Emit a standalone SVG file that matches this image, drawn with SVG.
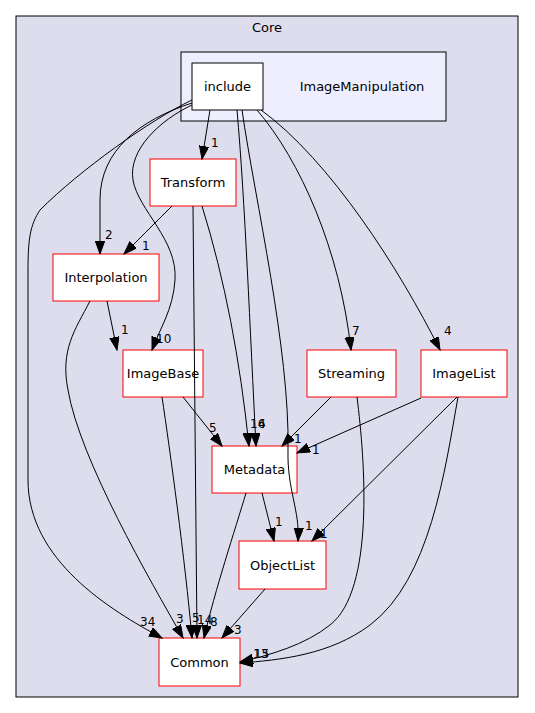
<svg xmlns="http://www.w3.org/2000/svg" width="535" height="713" viewBox="0 0 535 713">
<defs>
<marker id="ah" markerWidth="14" markerHeight="10" refX="13" refY="4.7" orient="auto" markerUnits="userSpaceOnUse"><path d="M0,0 L13,4.7 L0,9.4 z" fill="#000" stroke="#000" stroke-width="1"/></marker>
</defs>
<style>
text{font-family:"DejaVu Sans","Liberation Sans",sans-serif;font-size:13px;fill:#000}
.l{font-size:12px}
.n{fill:#fff;stroke:#ff0000;stroke-width:1}
.e{fill:none;stroke:#000;stroke-width:1;marker-end:url(#ah)}
.c{text-anchor:middle}
</style>
<rect width="535" height="713" fill="#fff"/>
<g id="cluster_core">
<rect x="16" y="16" width="502" height="681" fill="#ddddee" stroke="#000"/>
<text class="c" x="267" y="32">Core</text>
</g>
<g id="cluster_imagemanipulation">
<rect x="181" y="52" width="265" height="69" fill="#eeeeff" stroke="#000"/>
<text class="c" x="362" y="91">ImageManipulation</text>
</g>
<g id="include">
<rect x="192" y="63" width="71" height="47" fill="#fff" stroke="#000"/>
<text class="c" x="227.5" y="91">include</text>
</g>
<g id="transform">
<rect class="n" x="150" y="159" width="86" height="47"/>
<text class="c" x="193" y="187">Transform</text>
</g>
<g id="interpolation">
<rect class="n" x="53" y="254" width="106" height="47"/>
<text class="c" x="106" y="282">Interpolation</text>
</g>
<g id="imagebase">
<rect class="n" x="123" y="350" width="80" height="47"/>
<text class="c" x="163" y="378">ImageBase</text>
</g>
<g id="streaming">
<rect class="n" x="307" y="350" width="89" height="47"/>
<text class="c" x="351.5" y="378">Streaming</text>
</g>
<g id="imagelist">
<rect class="n" x="421" y="350" width="86" height="47"/>
<text class="c" x="464" y="378">ImageList</text>
</g>
<g id="metadata">
<rect class="n" x="212" y="446" width="85" height="47"/>
<text class="c" x="254.5" y="474">Metadata</text>
</g>
<g id="objectlist">
<rect class="n" x="239" y="541" width="87" height="48"/>
<text class="c" x="282.5" y="570">ObjectList</text>
</g>
<g id="common">
<rect class="n" x="159" y="638" width="81" height="48"/>
<text class="c" x="199.5" y="667">Common</text>
</g>
<g id="connectors">
<path class="e" d="M210,110 L202,159"/>
<text class="l" x="211" y="147">1</text>
<path class="e" d="M192,103 C140,120 100,150 100,200 L100,254"/>
<text class="l" x="105" y="239">2</text>
<path class="e" d="M192,105 C160,120 128,150 133,180 C138,210 178,240 175,280 C173,310 160,328 152,350"/>
<text class="l" x="156" y="343">10</text>
<path class="e" d="M192,100 C150,120 80,170 40,210 C30,225 28,240 28,270 L28,480 C28,560 110,610 162,638"/>
<text class="l" x="140" y="626">34</text>
<path class="e" d="M237,110 C245,200 250,330 256,446"/>
<text class="l" x="258" y="428">4</text>
<path class="e" d="M202,206 C225,280 240,360 249,446"/>
<text class="l" x="250" y="428">16</text>
<path class="e" d="M242,110 C255,200 290,350 288,450 C287,490 300,510 298,541"/>
<text class="l" x="305" y="530">1</text>
<path class="e" d="M257,110 C300,160 340,250 351,350"/>
<text class="l" x="352" y="335">7</text>
<path class="e" d="M261,110 C330,160 400,270 440,350"/>
<text class="l" x="444" y="335">4</text>
<path class="e" d="M172,206 L124,254"/>
<text class="l" x="142" y="250">1</text>
<path class="e" d="M107,301 L117,350"/>
<text class="l" x="121" y="334">1</text>
<path class="e" d="M90,301 C75,330 60,350 68,390 C80,460 150,580 183,638"/>
<text class="l" x="176" y="623">3</text>
<path class="e" d="M183,397 L222,446"/>
<text class="l" x="209" y="432">5</text>
<path class="e" d="M162,397 C170,450 185,560 192,638"/>
<text class="l" x="192" y="622">5</text>
<path class="e" d="M193,206 L197,638"/>
<text class="l" x="197" y="624">14</text>
<path class="e" d="M246,493 C235,530 215,590 204,638"/>
<text class="l" x="210" y="626">8</text>
<path class="e" d="M265,589 L222,638"/>
<text class="l" x="234" y="634">3</text>
<path class="e" d="M262,493 L274,541"/>
<text class="l" x="275" y="526">1</text>
<path class="e" d="M457,397 L312,541"/>
<text class="l" x="320" y="538">1</text>
<path class="e" d="M331,397 L282,446"/>
<text class="l" x="294" y="443">1</text>
<path class="e" d="M421,398 L297,453"/>
<text class="l" x="312" y="454">1</text>
<path class="e" d="M357,397 C365,460 375,590 330,625 C305,645 270,655 240,662"/>
<text class="l" x="253" y="658">13</text>
<path class="e" d="M458,397 C445,470 430,580 370,625 C330,655 280,660 240,663"/>
<text class="l" x="254" y="658">15</text>
</g>
</svg>
